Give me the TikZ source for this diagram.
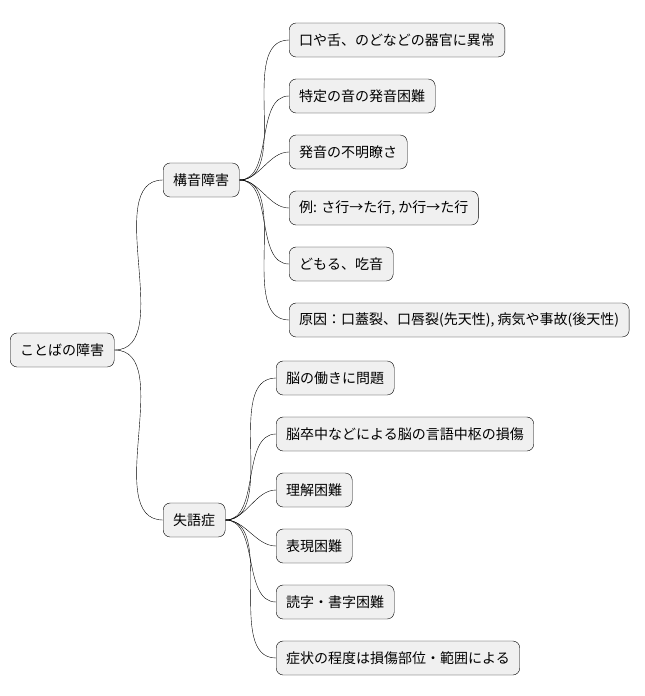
\documentclass[tikz,border=0pt]{standalone}
\usepackage{fontspec}
\setmainfont{Noto Sans CJK JP}
\definecolor{boxfill}{HTML}{F0F0F0}
\begin{document}
\begin{tikzpicture}[x=1pt,y=-1pt,
    every node/.style={draw, rounded corners=7pt, fill=boxfill, anchor=west,
      minimum height=34pt, inner xsep=10pt, font=\fontsize{14}{17}\selectfont},
    link/.style={out=0, in=180, looseness=0.9}]
  \useasboundingbox (0,0) rectangle (645,696);
  \node (root) at (10,350) {ことばの障害};
  \node (kouon) at (163,180) {構音障害};
  \node (shitsugo) at (163,520) {失語症};
  \node (k1) at (289,40) {口や舌、のどなどの器官に異常};
  \node (k2) at (289,96) {特定の音の発音困難};
  \node (k3) at (289,152) {発音の不明瞭さ};
  \node (k4) at (289,208) {例: さ行→た行, か行→た行};
  \node (k5) at (289,264) {どもる、吃音};
  \node (k6) at (289,320) {原因：口蓋裂、口唇裂(先天性), 病気や事故(後天性)};
  \node (s1) at (276,378) {脳の働きに問題};
  \node (s2) at (276,434) {脳卒中などによる脳の言語中枢の損傷};
  \node (s3) at (276,490) {理解困難};
  \node (s4) at (276,546) {表現困難};
  \node (s5) at (276,602) {読字・書字困難};
  \node (s6) at (276,658) {症状の程度は損傷部位・範囲による};
  \foreach \dest in {kouon, shitsugo}
    \draw (root.east) to[link] (\dest.west);
  \foreach \dest in {k1, k2, k3, k4, k5, k6}
    \draw (kouon.east) to[link] (\dest.west);
  \foreach \dest in {s1, s2, s3, s4, s5, s6}
    \draw (shitsugo.east) to[link] (\dest.west);
\end{tikzpicture}
\end{document}
